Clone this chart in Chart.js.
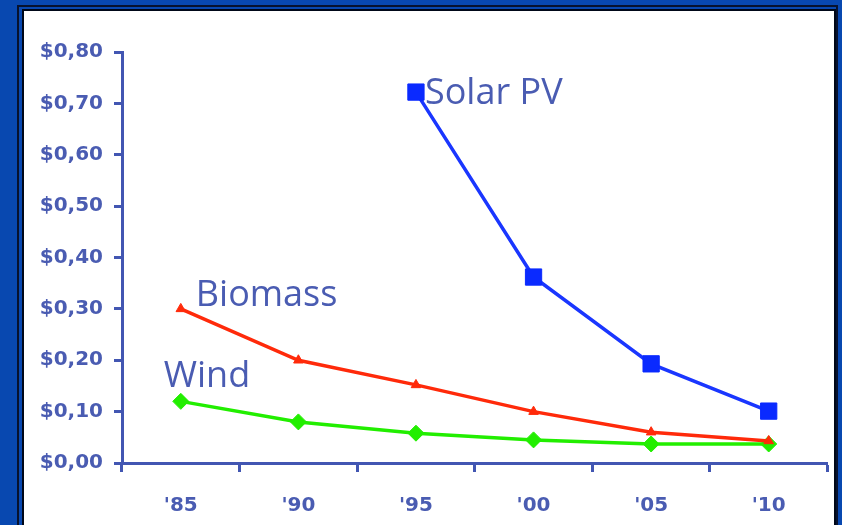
<!DOCTYPE html>
<html>
<head>
<meta charset="utf-8">
<script src="https://cdn.jsdelivr.net/npm/chart.js@4"></script>
<style>
  html, body { margin: 0; padding: 0; }
  body { width: 842px; height: 525px; background: #0848b0; position: relative; overflow: hidden; }
  #frame { position: absolute; left: 17px; top: 5px; width: 817px; height: 540px; border: 2px solid #07122e; background: #0848b0; }
  #inner { position: absolute; left: 3px; top: 2px; width: 810px; height: 540px; border: 2px solid #000818; background: #fff; }
  #wrap { position: absolute; left: 24px; top: 12px; width: 816px; height: 513px; }
</style>
</head>
<body>
<div id="frame"><div id="inner"></div></div>
<div id="wrap"><canvas id="c" width="816" height="513"></canvas></div>
<script>
const categories = ["'85", "'90", "'95", "'00", "'05", "'10"];
const solarPV = [null, null, 0.722, 0.362, 0.193, 0.101];
const biomass = [0.30, 0.20, 0.152, 0.10, 0.06, 0.043];
const wind = [0.12, 0.08, 0.058, 0.045, 0.037, 0.037];
const seriesNames = ["Solar PV", "Biomass", "Wind"];
const yTickLabels = ["$0,00", "$0,10", "$0,20", "$0,30", "$0,40", "$0,50", "$0,60", "$0,70", "$0,80"];

const axisColor = '#4256b2';
const textColor = '#4a5cb2';

const seriesLabelPlugin = {
  id: 'seriesLabels',
  afterDatasetsDraw(chart) {
    const ctx = chart.ctx;
    const x = chart.scales.x, y = chart.scales.y;
    ctx.save();
    ctx.fillStyle = textColor;
    ctx.font = '400 36px "Open Sans"';
    ctx.textAlign = 'left';
    ctx.textBaseline = 'middle';
    ctx.fillText(seriesNames[0], x.getPixelForValue(2) + 9, y.getPixelForValue(solarPV[2]) + 2);
    ctx.fillText(seriesNames[1], x.getPixelForValue(0) + 15, y.getPixelForValue(biomass[0]) - 13);
    ctx.fillText(seriesNames[2], x.getPixelForValue(0) - 17, y.getPixelForValue(wind[0]) - 25);
    ctx.restore();
  }
};

new Chart(document.getElementById('c'), {
  type: 'line',
  data: {
    labels: categories,
    datasets: [
      { label: seriesNames[0], data: solarPV, borderColor: '#1a36ff', backgroundColor: '#0a2aff', borderWidth: 3.5,
        pointStyle: 'rect', pointRadius: 11.5, pointBorderWidth: 1, pointBorderColor: '#0a2aff', spanGaps: false },
      { label: seriesNames[1], data: biomass, borderColor: '#ff2a0a', backgroundColor: '#ff2a0a', borderWidth: 3.5,
        pointStyle: 'triangle', pointRadius: 5.5, pointBorderWidth: 1 },
      { label: seriesNames[2], data: wind, borderColor: '#22ee00', backgroundColor: '#22ee00', borderWidth: 3.5,
        pointStyle: 'rectRot', pointRadius: 8, pointBorderWidth: 1 }
    ]
  },
  options: {
    responsive: false,
    animation: false,
    layout: { padding: { top: 40, right: 5, left: 0, bottom: 0 } },
    plugins: { legend: { display: false }, tooltip: { enabled: false } },
    scales: {
      x: {
        offset: true,
        grid: { offset: true, drawOnChartArea: false, drawTicks: true, tickLength: 9, tickWidth: 3, color: axisColor },
        border: { display: true, color: axisColor, width: 3 },
        ticks: { color: textColor, font: { family: '"DejaVu Sans"', weight: 'bold', size: 20 }, padding: 22, maxRotation: 0 },
        afterFit(s) { s.height = 62; }
      },
      y: {
        min: 0, max: 0.8,
        grid: { drawOnChartArea: false, drawTicks: true, tickLength: 8, tickWidth: 3, color: axisColor },
        border: { display: true, color: axisColor, width: 3 },
        ticks: { stepSize: 0.1, color: textColor, font: { family: '"DejaVu Sans"', weight: 'bold', size: 20 }, padding: 11,
          callback: (v, i) => yTickLabels[i] },
        afterFit(s) { s.width = 98; }
      }
    }
  },
  plugins: [seriesLabelPlugin]
});
</script>
</body>
</html>
